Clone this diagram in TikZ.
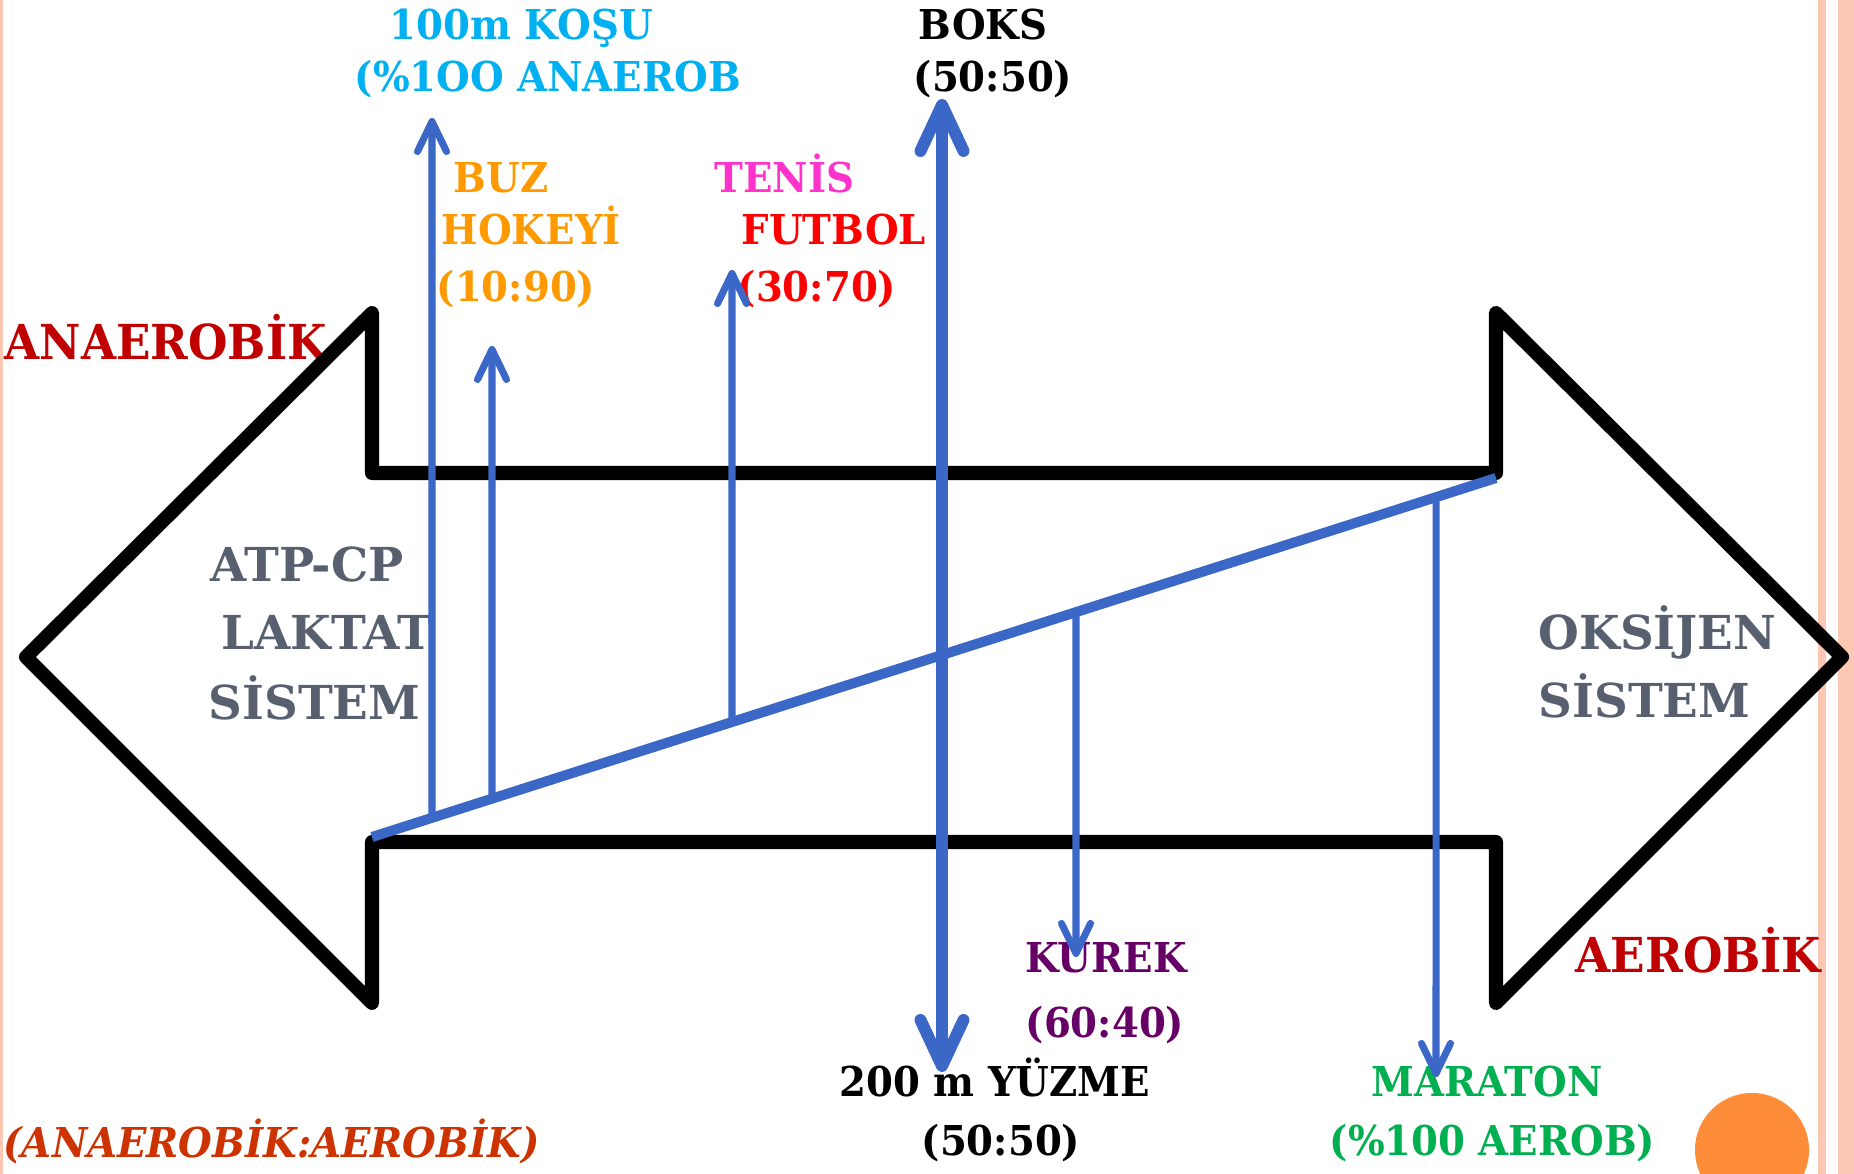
\documentclass[tikz,border=0pt]{standalone}
\usepackage[svgnames]{xcolor}
\usepackage{fontspec}
\setmainfont{DejaVu Serif}[FakeStretch=0.94]
\newfontfamily\systemfont{DejaVu Serif}
\usepackage{tikz}
\usetikzlibrary{calc}
\usetikzlibrary{arrows.meta}
\pgfdeclarelayer{background}
\pgfdeclarelayer{edgelayer}
\pgfdeclarelayer{nodelayer}
\pgfsetlayers{background,nodelayer,edgelayer,main}
\tikzstyle{none}=[inner sep=0pt]
\tikzstyle{sport_label}=[inner sep=0pt, anchor=base west, font=\fontsize{11.7}{14}\selectfont\bfseries]
\tikzstyle{side_label}=[inner sep=0pt, anchor=base west, text={rgb,255: red,192; green,0; blue,0}, font=\fontsize{13.7}{16}\selectfont\bfseries]
\tikzstyle{system_label}=[inner sep=0pt, anchor=base west, text={rgb,255: red,88; green,96; blue,112}, font=\systemfont\fontsize{13.3}{16}\selectfont\bfseries]
\tikzstyle{double_arrow}=[draw=black, line width=4pt, line join=round, line cap=round]
\tikzstyle{slope_line}=[draw={rgb,255: red,59; green,103; blue,198}, line width=2.85pt]
\tikzstyle{thin_pointer}=[draw={rgb,255: red,59; green,103; blue,198}, line width=2pt, -{Straight Barb[length=0.3cm, width=0.29cm, round]}]
\tikzstyle{thick_pointer}=[draw={rgb,255: red,59; green,103; blue,198}, line width=3.4pt, {Straight Barb[length=0.46cm, width=0.43cm, round]}-{Straight Barb[length=0.46cm, width=0.43cm, round]}]
\tikzstyle{side_strip}=[fill={rgb,255: red,252; green,200; blue,180}, draw=none]
\tikzstyle{corner_dot}=[fill={rgb,255: red,255; green,140; blue,56}, draw=none]

\begin{document}
\begin{tikzpicture}[x=0.01cm, y=-0.01cm]
    \useasboundingbox (0,0) rectangle (1854,1174);
    \begin{pgfonlayer}{background}
        \fill [style={side_strip}] (0,0) rectangle (3,1174);
        \fill [style={side_strip}] (1818,0) rectangle (1826,1174);
        \fill [style={side_strip}] (1838,0) rectangle (1854,1174);
        \fill [style={corner_dot}] (1752,1150) circle [radius=0.57cm];
    \end{pgfonlayer}
    \begin{pgfonlayer}{nodelayer}
        % labels above
        \node [style={sport_label}, text={rgb,255: red,0; green,176; blue,240}] (0) at (389, 40) {100m KOŞU};
        \node [style={sport_label}, text={rgb,255: red,0; green,176; blue,240}] (1) at (354, 92) {(\%1OO ANAEROB};
        \node [style={sport_label}, text=black] (2) at (918, 40) {BOKS};
        \node [style={sport_label}, text=black] (3) at (913, 92) {(50:50)};
        \node [style={sport_label}, text={rgb,255: red,255; green,153; blue,0}] (4) at (453, 193) {BUZ};
        \node [style={sport_label}, text={rgb,255: red,255; green,153; blue,0}] (5) at (441, 245) {HOKEYİ};
        \node [style={sport_label}, text={rgb,255: red,255; green,153; blue,0}] (6) at (436, 302) {(10:90)};
        \node [style={sport_label}, text={rgb,255: red,255; green,51; blue,204}] (7) at (714, 193) {TENİS};
        \node [style={sport_label}, text=red] (8) at (741, 245) {FUTBOL};
        \node [style={sport_label}, text=red] (9) at (737, 302) {(30:70)};

        % energy systems
        \node [style={side_label}] (10) at (4, 360) {ANAEROBİK};
        \node [style={side_label}] (11) at (1575, 973) {AEROBİK};
        \node [style={system_label}] (12) at (210, 582) {ATP-CP};
        \node [style={system_label}] (13) at (221, 650) {LAKTAT};
        \node [style={system_label}] (14) at (208, 720) {SİSTEM};
        \node [style={system_label}] (15) at (1538, 650) {OKSİJEN};
        \node [style={system_label}] (16) at (1538, 718) {SİSTEM};

        % labels below
        \node [style={sport_label}, text={rgb,255: red,102; green,0; blue,102}] (17) at (1025, 973) {KUREK};
        \node [style={sport_label}, text={rgb,255: red,102; green,0; blue,102}] (18) at (1025, 1038) {(60:40)};
        \node [style={sport_label}, text=black] (19) at (839, 1097) {200 m YÜZME};
        \node [style={sport_label}, text=black] (20) at (921, 1156) {(50:50)};
        \node [style={sport_label}, text={rgb,255: red,0; green,176; blue,80}] (21) at (1371, 1097) {MARATON};
        \node [style={sport_label}, text={rgb,255: red,0; green,176; blue,80}] (22) at (1329, 1156) {(\%100 AEROB)};
        \node [style={sport_label}, text={rgb,255: red,204; green,51; blue,0}, font=\fontsize{11.7}{14}\selectfont\bfseries\itshape] (23) at (3, 1158) {(ANAEROBİK:AEROBİK)};

        % docking points
        \coordinate (30) at (372, 837);
        \coordinate (31) at (1496, 478);
        \coordinate (32) at ($(30)!0.05338!(31)$);
        \coordinate (33) at ($(30)!0.10676!(31)$);
        \coordinate (34) at ($(30)!0.32028!(31)$);
        \coordinate (35) at ($(30)!0.62633!(31)$);
        \coordinate (36) at ($(30)!0.94662!(31)$);
        \coordinate (40) at (432, 118);
        \coordinate (41) at (492, 346);
        \coordinate (42) at (732, 270);
        \coordinate (43) at (1076, 957);
        \coordinate (44) at (1436, 1077);
        \coordinate (45) at (942, 99);
        \coordinate (46) at (942, 1072);
    \end{pgfonlayer}
    \begin{pgfonlayer}{edgelayer}
        \draw [style={double_arrow}] (26,657) -- (372,313) -- (372,473) -- (1496,473) -- (1496,313)
            -- (1842,657) -- (1496,1003) -- (1496,842) -- (372,842) -- (372,1003) -- cycle;
        \draw [style={slope_line}] (30) to (31);
        \draw [style={thin_pointer}] (32) to (40);
        \draw [style={thin_pointer}] (33) to (41);
        \draw [style={thin_pointer}] (34) to (42);
        \draw [style={thin_pointer}] (35) to (43);
        \draw [style={thin_pointer}] (36) to (44);
        \draw [style={thick_pointer}] (46) to (45);
    \end{pgfonlayer}
\end{tikzpicture}
\end{document}
